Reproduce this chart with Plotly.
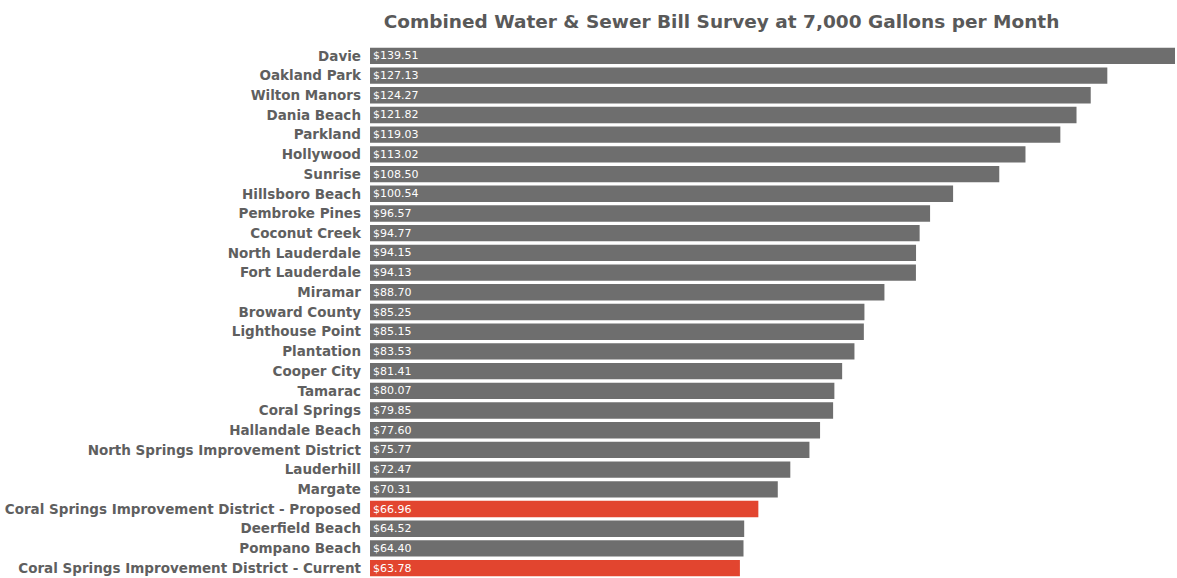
import plotly.graph_objects as go

categories = [
    "Davie", "Oakland Park", "Wilton Manors", "Dania Beach", "Parkland",
    "Hollywood", "Sunrise", "Hillsboro Beach", "Pembroke Pines", "Coconut Creek",
    "North Lauderdale", "Fort Lauderdale", "Miramar", "Broward County",
    "Lighthouse Point", "Plantation", "Cooper City", "Tamarac", "Coral Springs",
    "Hallandale Beach", "North Springs Improvement District", "Lauderhill",
    "Margate", "Coral Springs Improvement District - Proposed", "Deerfield Beach",
    "Pompano Beach", "Coral Springs Improvement District - Current",
]
bills = [
    139.51, 127.13, 124.27, 121.82, 119.03,
    113.02, 108.50, 100.54, 96.57, 94.77,
    94.15, 94.13, 88.70, 85.25,
    85.15, 83.53, 81.41, 80.07, 79.85,
    77.60, 75.77, 72.47,
    70.31, 66.96, 64.52,
    64.40, 63.78,
]
highlight = ["Coral Springs Improvement District - Proposed",
             "Coral Springs Improvement District - Current"]

GREY = "#6e6e6e"
RED = "#e2452f"
colors = [RED if c in highlight else GREY for c in categories]

fig = go.Figure(go.Bar(
    x=bills,
    y=categories,
    orientation="h",
    marker=dict(color=colors, line=dict(width=0)),
    texttemplate="$%{x:.2f}",
    textposition="inside",
    insidetextanchor="start",
    constraintext="none",
    textfont=dict(color="white", size=11, family="DejaVu Sans"),
    hoverinfo="skip",
))

fig.update_layout(
    width=1177, height=578,
    margin=dict(l=370, r=2, t=46, b=0),
    paper_bgcolor="white", plot_bgcolor="white",
    bargap=0.17,
    showlegend=False,
    title=dict(
        text="<b>Combined Water &amp; Sewer Bill Survey at 7,000 Gallons per Month</b>",
        x=0.613, xanchor="center", y=0.962, yanchor="middle",
        font=dict(family="DejaVu Sans", size=18.5, color="#595959"),
    ),
)
fig.update_xaxes(range=[0, 138.8], visible=False, showgrid=False, zeroline=False)
fig.update_yaxes(
    categoryorder="array", categoryarray=categories[::-1],
    showgrid=False, zeroline=False, showline=False,
    tickfont=dict(family="DejaVu Sans", size=13.5, color="#5f5f5f", weight="bold"),
    ticklabelstandoff=8,
)

fig.write_html("out.html")
